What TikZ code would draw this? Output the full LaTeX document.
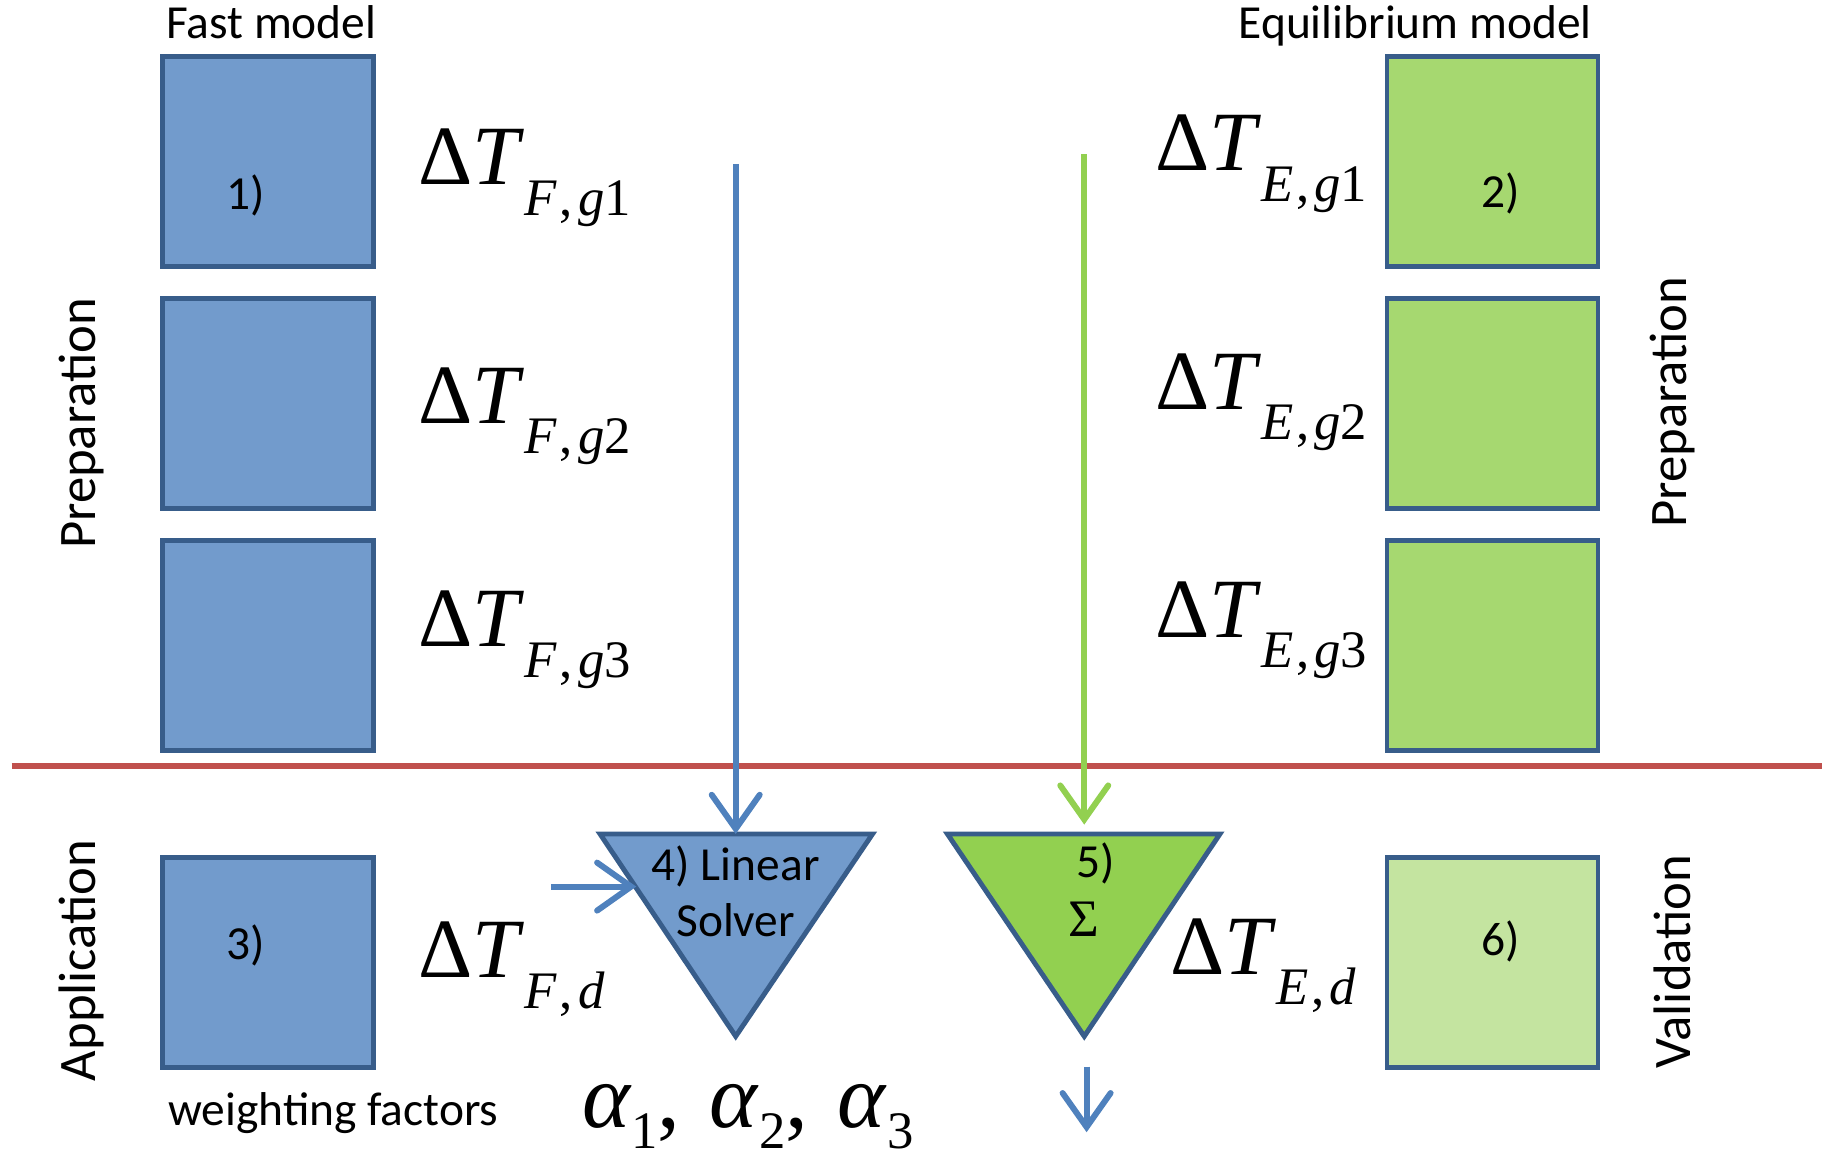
\documentclass[tikz,border=0pt]{standalone}
\usepackage{fontspec}
\setmainfont{Carlito}
\newfontfamily\tnr{Liberation Serif}
\usetikzlibrary{arrows.meta,positioning}

\definecolor{fastfill}{RGB}{114,155,204}
\definecolor{boxline}{RGB}{56,93,138}
\definecolor{eqfill}{RGB}{166,216,112}
\definecolor{sumfill}{RGB}{146,208,80}
\definecolor{valfill}{RGB}{196,228,160}
\definecolor{fastline}{RGB}{79,129,189}
\definecolor{eqline}{RGB}{146,208,80}
\definecolor{splitred}{RGB}{192,80,77}

% temperature change labels and weights
\newcommand{\dT}[2]{{\tnr\fontsize{24}{24}\selectfont Δ\textit{T}\raisebox{-0.36em}{\fontsize{15}{15}\selectfont\textit{#1}\kern0.05em,\kern0.1em#2}}}
\newcommand{\wf}[1]{\textit{α}\raisebox{-6pt}{\fontsize{15}{15}\selectfont #1}}

\begin{document}
\begin{tikzpicture}[
  x=0.11696mm, y=-0.11696mm,
  node distance=3.15mm and 14mm,
  model/.style={draw=boxline, line width=1.4pt, minimum width=21.1mm,
                minimum height=21.05mm, outer sep=0pt, inner sep=0pt},
  fastbox/.style={model, fill=fastfill},
  eqbox/.style={model, fill=eqfill},
  txt/.style={font=\fontsize{13.5}{16}\selectfont, inner sep=0pt},
  side/.style={font=\fontsize{15}{18}\selectfont, rotate=90, inner sep=0pt},
  sym/.style={inner sep=0pt, anchor=base west},
  tri/.style={draw=boxline, line width=1.4pt},
  arr/.style={line width=1.7pt, -{Straight Barb[length=3.4mm,width=4.8mm,line cap=round]}},
]
\useasboundingbox (0,0) rectangle (1568,988);

% boxes
\node[fastbox] (fast1) at (229,138) {};
\node[fastbox, below=of fast1] (fast2) {};
\node[fastbox, below=of fast2] (fast3) {};
\node[fastbox] (fastapp) at (229,823) {};
\node[eqbox] (eq1) at (1276,138) {};
\node[eqbox, below=of eq1] (eq2) {};
\node[eqbox, below=of eq2] (eq3) {};
\node[model, fill=valfill] (valid) at (1276,823) {};

\node[txt] (n1) at (210,167) {1)};
\node[txt] (n2) at (1283,165) {2)};
\node[txt] (n3) at (210,808) {3)};
\node[txt] (n6) at (1283,805) {6)};

\node[txt, anchor=base] (fasttitle) at (232,33) {Fast model};
\node[txt, anchor=base] (eqtitle) at (1210,33) {Equilibrium model};
\node[txt, anchor=base] (wtitle) at (285,962) {weighting factors};

\node[side] (prepL) at (70,362) {Preparation};
\node[side] (prepR) at (1430,344) {Preparation};
\node[side] (appl) at (70,821) {Application};
\node[side] (valt) at (1430,822) {Validation};

% labels
\node[sym] (dtf1) at (357,158) {\dT{F}{\textit{g}1}};
\node[sym] (dtf2) at (357,362) {\dT{F}{\textit{g}2}};
\node[sym] (dtf3) at (357,553) {\dT{F}{\textit{g}3}};
\node[sym] (dtfd) at (357,836) {\dT{F}{\textit{d}}};
\node[sym] (dte1) at (987,146) {\dT{E}{\textit{g}1}};
\node[sym] (dte2) at (987,350) {\dT{E}{\textit{g}2}};
\node[sym] (dte3) at (987,545) {\dT{E}{\textit{g}3}};
\node[sym] (dted) at (1000,833) {\dT{E}{\textit{d}}};
\node[sym] (alphas) at (497,964)
  {\tnr\fontsize{26}{26}\selectfont\wf{1},\hspace{0.32em}\wf{2},\hspace{0.32em}\wf{3}};

% divider
\draw[splitred, line width=1.8pt] (10,655) -- (1558,655);

% solver and sum
\coordinate (solverL) at (513,713);
\coordinate (solverR) at (746,713);
\coordinate (solverB) at (629,886);
\coordinate (sumL) at (810,713);
\coordinate (sumR) at (1043,713);
\coordinate (sumB) at (927,886);
\draw[tri, fill=fastfill] (solverL) -- (solverR) -- (solverB) -- cycle;
\draw[tri, fill=sumfill] (sumL) -- (sumR) -- (sumB) -- cycle;
\node[txt, align=center] (solver) at (629,762) {4) Linear\\Solver};
\node[txt] (n5) at (937,738) {5)};
\node[inner sep=0pt, font=\tnr\fontsize{15}{18}\selectfont] (sigma) at (927,786) {Σ};

% arrows
\coordinate (fasttop) at (629,140);
\coordinate (solvertop) at (629,713);
\coordinate (eqtop) at (927,132);
\coordinate (sumtop) at (927,705);
\coordinate (alphain) at (471,758);
\coordinate (solverin) at (544,758);
\coordinate (sumout) at (929,912);
\coordinate (resultend) at (929,968);
\draw[arr, fastline] (fasttop) -- (solvertop);
\draw[arr, eqline] (eqtop) -- (sumtop);
\draw[arr, fastline] (alphain) -- (solverin);
\draw[arr, fastline] (sumout) -- (resultend);
\end{tikzpicture}
\end{document}
